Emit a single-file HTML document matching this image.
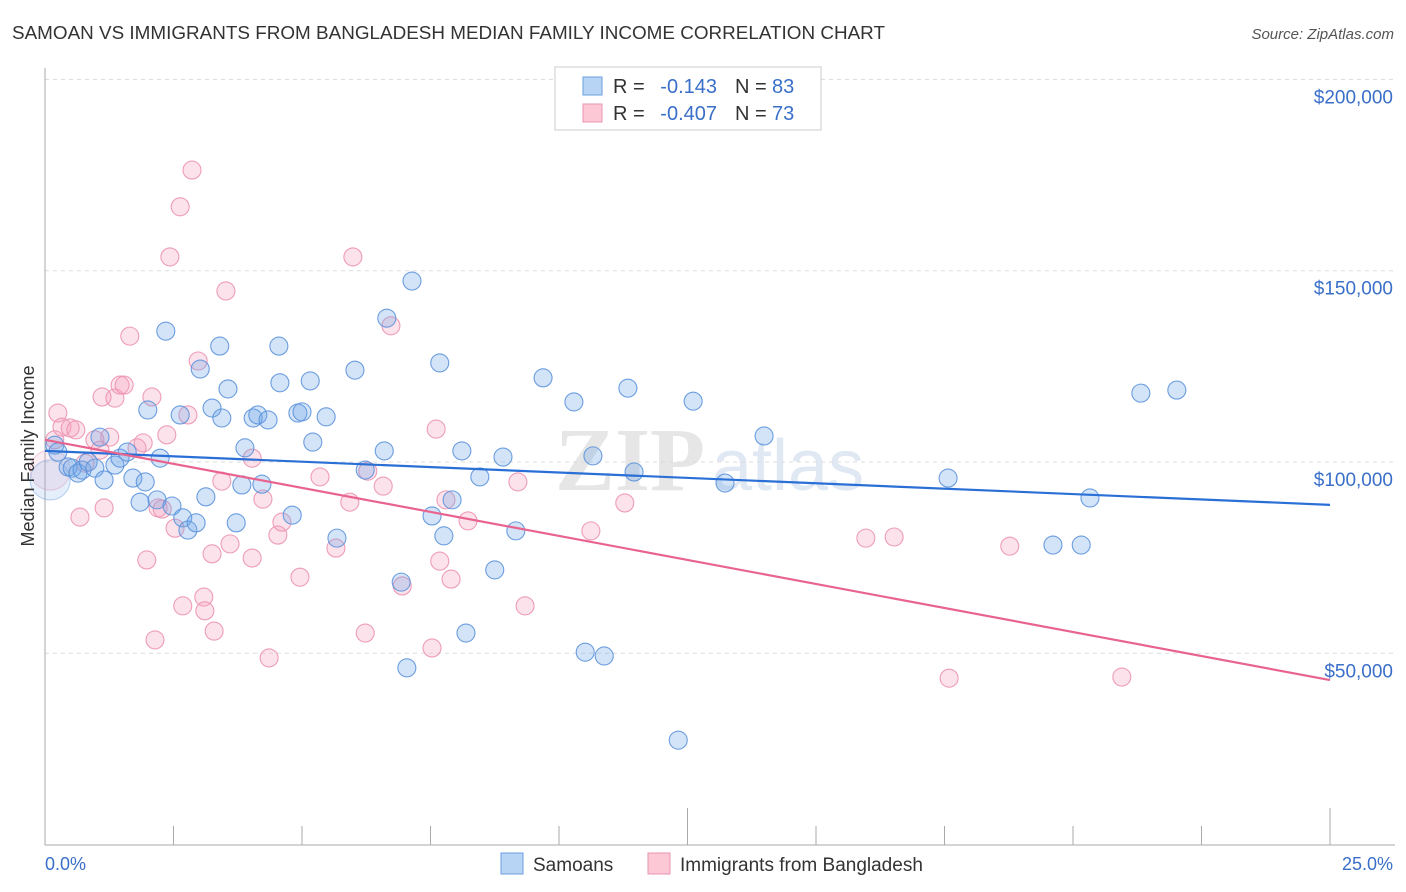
<!DOCTYPE html>
<html><head><meta charset="utf-8"><style>
body{margin:0;background:#fff;font-family:"Liberation Sans",sans-serif}
svg{display:block}
</style></head><body>
<svg id="chart" width="1406" height="892">
<text x="12" y="39" font-size="18" fill="#333" textLength="873" lengthAdjust="spacingAndGlyphs">SAMOAN VS IMMIGRANTS FROM BANGLADESH MEDIAN FAMILY INCOME CORRELATION CHART</text>
<text x="1394" y="39" font-size="15" fill="#555" font-style="italic" text-anchor="end">Source: ZipAtlas.com</text>
<g><text x="555" y="490" font-size="90" fill="#e6e6e6" font-family="Liberation Serif" font-weight="bold">ZIP</text><text x="712" y="490" font-size="72" fill="#dfe8f3">atlas</text></g>
<g id="grid"></g><g id="pts"></g><g id="trend"></g>
<text transform="translate(34,456) rotate(-90)" font-size="18" fill="#333" text-anchor="middle">Median Family Income</text>
<text x="45" y="870" font-size="18" fill="#3a6fc9">0.0%</text>
<text x="1393" y="870" font-size="18" fill="#3a6fc9" text-anchor="end">25.0%</text>
<g>
<rect x="555" y="67" width="266" height="63" fill="#fff" stroke="#ccc"/>
<rect x="583" y="77" width="19" height="18" fill="#b8d4f4" stroke="#6a9ee0"/>
<rect x="583" y="104" width="19" height="18" fill="#fcc8d6" stroke="#ea94b0"/>
<text y="93" font-size="20" fill="#333"><tspan x="613">R =</tspan><tspan x="717" text-anchor="end" fill="#3a6fc9">-0.143</tspan><tspan x="735">N =</tspan><tspan x="772" fill="#3a6fc9">83</tspan></text>
<text y="120" font-size="20" fill="#333"><tspan x="613">R =</tspan><tspan x="717" text-anchor="end" fill="#3a6fc9">-0.407</tspan><tspan x="735">N =</tspan><tspan x="772" fill="#3a6fc9">73</tspan></text>
</g>
<g>
<rect x="501" y="853" width="22" height="21" fill="#b8d4f4" stroke="#6a9ee0"/>
<text x="533" y="871" font-size="19" fill="#333">Samoans</text>
<rect x="648" y="853" width="22" height="21" fill="#fcc8d6" stroke="#ea94b0"/>
<text x="680" y="871" font-size="19" fill="#333">Immigrants from Bangladesh</text>
</g>
</svg>
<script>
const yTicks=[200000,150000,100000,50000];
const yTickLabels=["$200,000","$150,000","$100,000","$50,000"];
const blueX=[0.10,0.19,0.25,0.45,0.53,0.64,0.72,0.84,0.97,1.07,1.15,1.36,1.46,1.60,1.71,1.85,1.95,2.00,2.18,2.24,2.47,2.35,2.63,2.68,2.78,2.94,3.02,3.13,3.25,3.40,3.44,3.56,3.72,3.83,3.89,4.05,4.14,4.22,4.34,4.55,4.57,4.81,4.92,5.00,5.16,5.21,5.47,5.68,6.03,6.23,6.60,6.65,6.93,7.04,7.14,7.53,7.68,7.76,7.92,8.11,8.19,8.46,8.75,8.91,9.16,9.69,10.29,10.51,10.66,10.88,11.34,11.46,12.32,12.61,13.23,13.99,17.57,19.61,20.16,20.33,21.32,22.02];
const blueY=[95.3,104.4,102.6,98.7,98.4,97.1,97.9,100.0,98.4,106.5,95.3,99.2,101.0,102.6,95.8,89.5,94.8,113.6,90.1,101.0,88.5,134.2,112.3,85.4,82.2,84.1,124.3,90.9,114.1,130.3,111.5,119.1,84.1,94.0,103.7,111.5,112.3,94.2,111.0,130.3,120.7,86.1,112.8,113.1,121.2,105.2,111.8,80.1,124.0,97.9,102.9,137.6,68.6,46.2,147.3,85.9,125.9,80.7,90.1,102.9,55.3,96.1,71.8,101.3,82.0,122.0,115.7,50.3,101.6,49.3,119.3,97.4,27.3,115.9,94.5,106.8,95.8,78.3,78.3,90.6,118.0,118.8];
const pinkX=[0.10,0.19,0.25,0.33,0.49,0.60,0.68,0.78,0.97,1.07,1.15,1.11,1.26,1.36,1.46,1.54,1.65,1.79,1.91,1.98,2.08,2.20,2.14,2.28,2.37,2.43,2.53,2.63,2.68,2.78,2.86,2.98,3.09,3.11,3.25,3.29,3.44,3.52,3.60,4.03,4.03,4.24,4.36,4.53,4.61,4.96,5.35,5.66,5.93,5.99,6.23,6.28,6.58,6.73,6.95,7.53,7.61,7.68,7.80,7.90,8.23,9.20,9.34,10.62,11.28,15.97,16.52,17.59,18.77,20.95];
const pinkY=[97.9,105.8,112.8,109.1,108.9,108.4,85.6,99.7,105.8,103.1,88.0,117.0,106.5,116.7,120.1,120.1,132.9,103.7,105.0,74.4,117.0,88.0,53.5,87.7,107.1,153.6,82.7,166.7,62.4,112.3,176.3,126.4,64.7,61.1,76.0,55.8,95.0,144.7,78.6,101.0,74.9,90.3,48.8,80.9,84.3,69.9,96.1,77.5,89.5,153.6,55.3,97.6,93.7,135.6,67.6,51.4,108.6,74.1,90.1,69.4,84.6,94.8,62.4,82.0,89.3,80.1,80.4,43.5,78.0,43.8];
const blueTrend=[102.9,88.8];
const pinkTrend=[105.8,43.0];
const X=p=>45+p*(1285/25);
const Y=k=>462-(k-100)*191.3/50;
const NS="http://www.w3.org/2000/svg";
function mk(t,a,parent){const e=document.createElementNS(NS,t);for(const k in a)e.setAttribute(k,a[k]);parent.appendChild(e);return e;}
const grid=document.getElementById('grid');
yTicks.forEach((v,i)=>{const y=Y(v/1000);
const l=mk('line',{x1:45,x2:1395,y1:y,y2:y,stroke:'#dcdcdc','stroke-dasharray':'4,4'},grid);


const t=mk('text',{x:1393,y:y+24,'font-size':19,fill:'#3a6fc9','text-anchor':'end'},grid);t.textContent=yTickLabels[i];

});
const ax=mk('line',{x1:45,x2:45,y1:68,y2:845,stroke:'#aaa'},grid);


const bx=mk('line',{x1:45,x2:1395,y1:845,y2:845,stroke:'#aaa'},grid);


for(let i=1;i<=10;i++){const x=X(i*2.5);const tk=mk('line',{x1:x,x2:x,y1:(i==5||i==10)?808:826,y2:845,stroke:'#aaa'},grid);

}
const pts=document.getElementById('pts');
function draw(xs,ys,fill,stroke,name){xs.forEach((x,i)=>{const big=i==0;const c=mk('circle',{cx:X(x),cy:Y(ys[i]),r:big?20:9,fill:fill,stroke:stroke,'stroke-width':1.1,'fill-opacity':big?0.6:1,'stroke-opacity':big?0.4:0.9},pts);

});}
draw(pinkX,pinkY,'rgba(244,160,188,0.3)','#ec93b0','bangladesh-point');
draw(blueX,blueY,'rgba(110,165,232,0.3)','#5d93dc','samoan-point');
const tr=document.getElementById('trend');
const bl=mk('line',{x1:X(0),y1:Y(blueTrend[0]),x2:X(25),y2:Y(blueTrend[1]),stroke:'#2a6fd6','stroke-width':2.2},tr);


const pl=mk('line',{x1:X(0),y1:Y(pinkTrend[0]),x2:X(25),y2:Y(pinkTrend[1]),stroke:'#e8648f','stroke-width':2.2},tr);


</script>
</body></html>
